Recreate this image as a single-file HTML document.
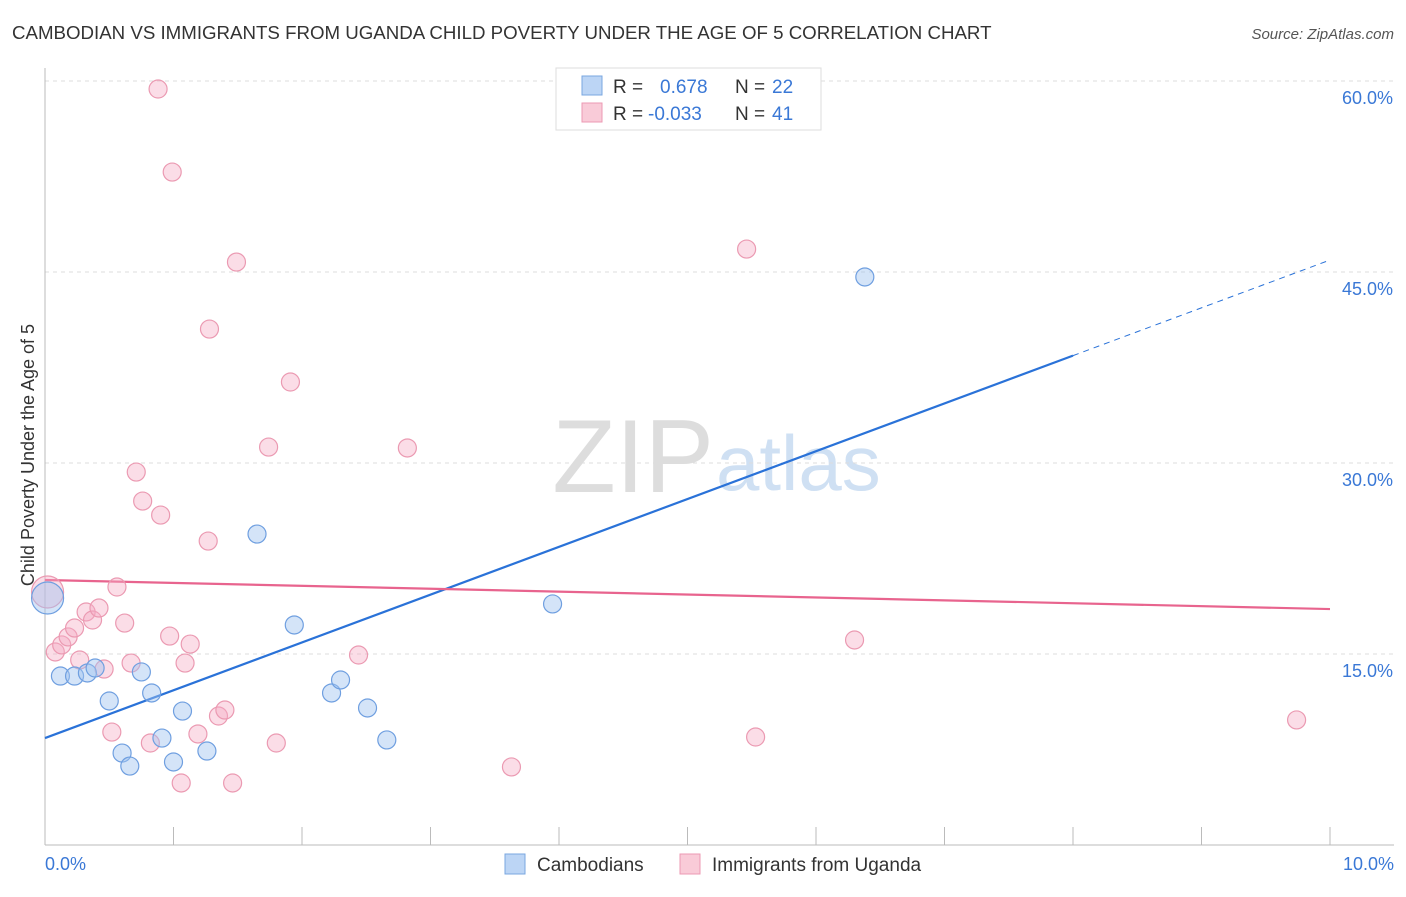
<!DOCTYPE html>
<html><head><meta charset="utf-8"><style>
body{margin:0;background:#fff;font-family:"Liberation Sans",sans-serif;}
svg text{font-family:"Liberation Sans",sans-serif;}
</style></head><body>
<svg id="chart" width="1406" height="892">
<text x="12" y="39" font-size="18.7" fill="#333">CAMBODIAN VS IMMIGRANTS FROM UGANDA CHILD POVERTY UNDER THE AGE OF 5 CORRELATION CHART</text>
<text x="1394" y="39" font-size="15" fill="#555" font-style="italic" text-anchor="end">Source: ZipAtlas.com</text>
<text x="714" y="492" font-size="104" fill="#ddd" text-anchor="end" font-family="Liberation Serif">ZIP</text>
<text x="716" y="490" font-size="78" fill="#cfe0f3">atlas</text>
<g id="grid"></g><g id="axes"></g><g id="trend"></g><g id="pts"></g>
<text transform="translate(34,455) rotate(-90)" font-size="18" fill="#333" text-anchor="middle">Child Poverty Under the Age of 5</text>
<g>
<rect x="556" y="68" width="265" height="62" fill="#fff" stroke="#ddd"/>
<rect x="582" y="76" width="20" height="19" fill="#bcd5f5" stroke="#7aa7e0"/>
<rect x="582" y="103" width="20" height="19" fill="#f9cbd8" stroke="#ec9ab3"/>
<text x="613" y="93" font-size="19" fill="#333">R =</text><text x="660" y="93" font-size="19" fill="#3a78d6">0.678</text>
<text x="735" y="93" font-size="19" fill="#333">N =</text><text x="772" y="93" font-size="19" fill="#3a78d6">22</text>
<text x="613" y="120" font-size="19" fill="#333">R =</text><text x="648" y="120" font-size="19" fill="#3a78d6">-0.033</text>
<text x="735" y="120" font-size="19" fill="#333">N =</text><text x="772" y="120" font-size="19" fill="#3a78d6">41</text>
</g>
<g>
<rect x="505" y="854" width="20" height="20" fill="#bcd5f5" stroke="#7aa7e0"/>
<text x="537" y="871" font-size="19" fill="#333">Cambodians</text>
<rect x="680" y="854" width="20" height="20" fill="#f9cbd8" stroke="#ec9ab3"/>
<text x="712" y="871" font-size="19" fill="#333">Immigrants from Uganda</text>
</g>
</svg>
<script>
const blueX=[0.02,0.12,0.23,0.33,0.39,0.50,0.60,0.66,0.75,0.83,0.91,1.00,1.07,1.26,1.65,1.94,2.23,2.30,2.51,2.66,3.95,6.38];
const blueY=[19.4,13.27,13.27,13.51,13.9,11.31,7.22,6.2,13.59,11.94,8.4,6.52,10.52,7.38,24.42,17.28,11.94,12.96,10.76,8.25,18.93,44.61];
const pinkX=[0.02,0.08,0.13,0.18,0.23,0.27,0.32,0.37,0.42,0.46,0.52,0.56,0.62,0.67,0.71,0.76,0.82,0.90,0.97,1.06,1.09,1.13,1.19,1.27,1.28,1.35,1.40,1.46,1.49,1.74,1.80,1.91,2.44,2.82,3.63,5.46,5.53,6.30,9.74,0.88,0.99];
const pinkY=[19.87,15.16,15.71,16.34,17.04,14.53,18.3,17.67,18.61,13.82,8.87,20.26,17.43,14.29,29.29,27.01,8.01,25.91,16.41,4.87,14.29,15.78,8.72,23.87,40.52,10.13,10.6,4.87,45.78,31.25,8.01,36.36,14.92,31.18,6.13,46.8,8.48,16.1,9.82,59.37,52.85];
const blueTrend=[8.4,45.94];
const pinkTrend=[20.81,18.53];
const yTicks=[15,30,45,60];
const yTickLabels=["15.0%","30.0%","45.0%","60.0%"];
const xTickVals=[0,1,2,3,4,5,6,7,8,9,10];
const NS="http://www.w3.org/2000/svg";
const sx=v=>45+v*128.5, sy=v=>845-v*191/15;
function mk(p,t,a){const e=document.createElementNS(NS,t);for(const k in a)e.setAttribute(k,a[k]);p.appendChild(e);return e;}
const grid=document.getElementById('grid'),axes=document.getElementById('axes'),trend=document.getElementById('trend'),pts=document.getElementById('pts');
yTicks.forEach((v,i)=>{
 const l=mk(grid,'line',{x1:45,x2:1394,y1:sy(v),y2:sy(v),stroke:'#ddd','stroke-dasharray':'4,4'});
 
 
 const t=mk(axes,'text',{x:1393,y:sy(v)+23,'font-size':18,fill:'#3a78d6','text-anchor':'end'});t.textContent=yTickLabels[i];
 
 
});
const ya=mk(axes,'line',{x1:45,x2:45,y1:68,y2:845,stroke:'#bbb'});


const xa=mk(axes,'line',{x1:45,x2:1394,y1:845,y2:845,stroke:'#bbb'});


xTickVals.forEach(v=>{const t=mk(axes,'line',{x1:sx(v),x2:sx(v),y1:827,y2:845,stroke:'#bbb'});
 
 });
[[0,'0.0%','start',45],[10,'10.0%','end',1394]].forEach(d=>{const t=mk(axes,'text',{x:d[3],y:870,'font-size':18,fill:'#3a78d6','text-anchor':d[2]});t.textContent=d[1];
 
 });
function pt(x,y,r,f,s,n){const c=mk(pts,'circle',{cx:sx(x),cy:sy(y),r:r,fill:f,stroke:s,'stroke-width':1.2});
 
 }
pinkX.forEach((x,i)=>pt(x,pinkY[i],i==0?16:9,'rgba(245,170,195,0.4)','#eb9ab2','uganda-point'));
blueX.forEach((x,i)=>pt(x,blueY[i],i==0?16:9,'rgba(160,195,240,0.45)','#6f9fe0','cambodian-point'));
const bxEnd=8;
const bt=v=>blueTrend[0]+(blueTrend[1]-blueTrend[0])*v/10;
const b1=mk(trend,'line',{x1:sx(0),y1:sy(bt(0)),x2:sx(bxEnd),y2:sy(bt(bxEnd)),stroke:'#2a72d8','stroke-width':2.2});


const b2=mk(trend,'line',{x1:sx(bxEnd),y1:sy(bt(bxEnd)),x2:sx(10),y2:sy(bt(10)),stroke:'#2a72d8','stroke-width':1,'stroke-dasharray':'6,5'});


const p1=mk(trend,'line',{x1:sx(0),y1:sy(pinkTrend[0]),x2:sx(10),y2:sy(pinkTrend[1]),stroke:'#e8648e','stroke-width':2.2});


</script>
</body></html>
